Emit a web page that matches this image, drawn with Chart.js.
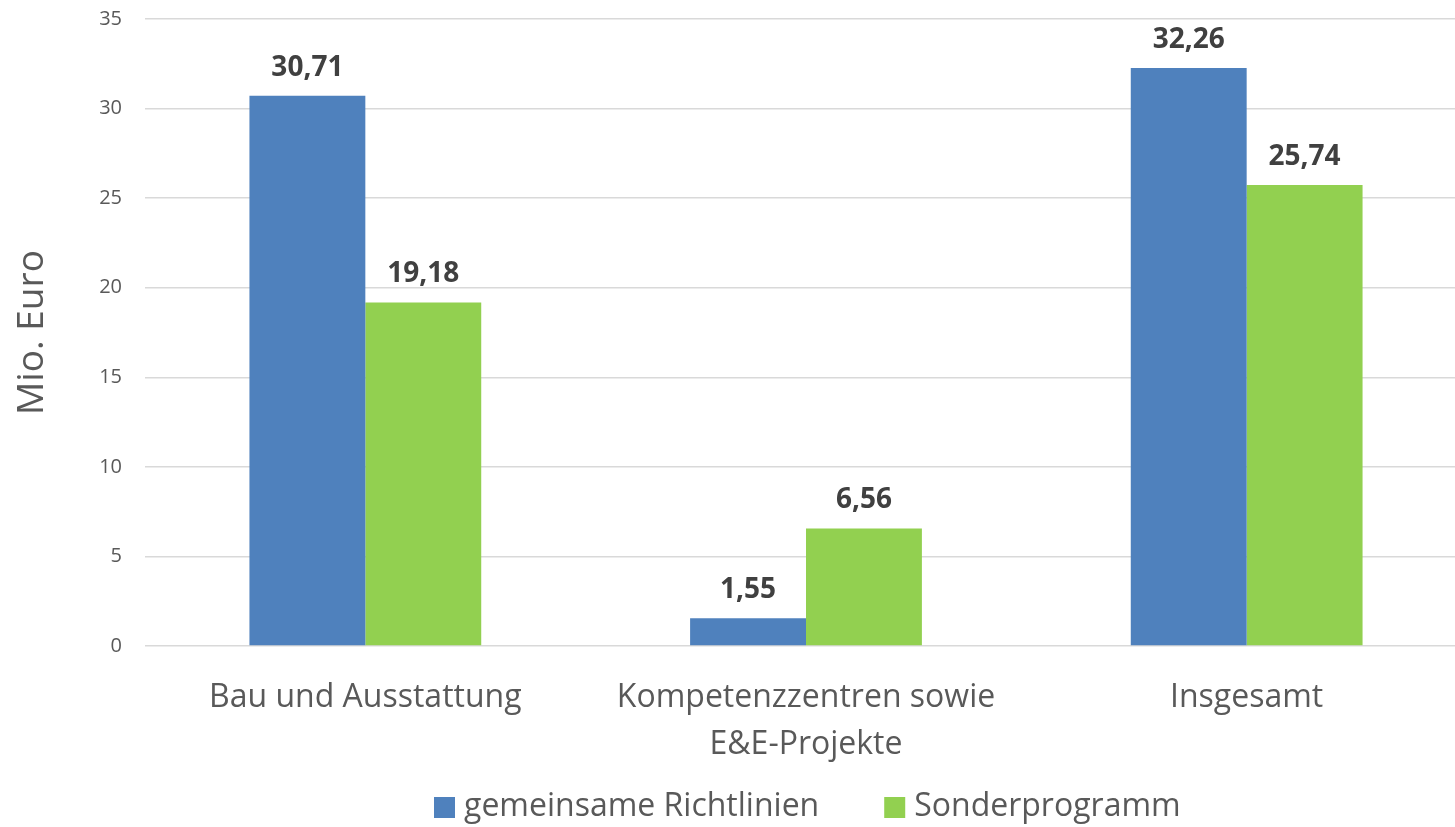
<!DOCTYPE html>
<html><head><meta charset="utf-8">
<script src="https://cdn.jsdelivr.net/npm/chart.js@4/dist/chart.umd.min.js"></script>
<style>html,body{margin:0;padding:0;background:#fff;overflow:hidden}#wrap{width:1467px;height:827px;position:relative}</style>
</head><body><div id="wrap"><canvas id="c"></canvas></div>
<script>
const categories = ["Bau und Ausstattung", ["Kompetenzzentren sowie", "E&E-Projekte"], "Insgesamt"];
const seriesNames = ["gemeinsame Richtlinien", "Sonderprogramm"];
const gemeinsame = [30.71, 1.55, 32.26];
const sonder = [19.18, 6.56, 25.74];
const yTicks = [0, 5, 10, 15, 20, 25, 30, 35];

const FONT = "'Open Sans', 'Liberation Sans', sans-serif";
const labelPlugin = {
  id: 'vals',
  afterDatasetsDraw(chart) {
    const ctx = chart.ctx;
    ctx.save();
    ctx.font = "bold 28px " + FONT;
    ctx.fillStyle = "#404040";
    ctx.textAlign = "center";
    ctx.textBaseline = "alphabetic";
    chart.data.datasets.forEach((ds, i) => {
      chart.getDatasetMeta(i).data.forEach((bar, j) => {
        ctx.fillText(ds.data[j].toFixed(2).replace('.', ','), bar.x, bar.y - 20);
      });
    });
    ctx.restore();
  }
};

// legend drawn on the canvas from the dataset labels/colours
const legendPlugin = {
  id: 'customLegend',
  afterDraw(chart) {
    const ctx = chart.ctx;
    ctx.save();
    ctx.font = "32px " + FONT;
    ctx.textBaseline = "middle";
    ctx.textAlign = "left";
    let x = 434;
    const yc = 807;
    chart.data.datasets.forEach((ds) => {
      ctx.fillStyle = ds.backgroundColor;
      ctx.fillRect(x, yc - 10, 21, 21);
      x += 21 + 9;
      ctx.fillStyle = "#595959";
      ctx.fillText(ds.label, x, yc);
      x += ctx.measureText(ds.label).width + 65;
    });
    ctx.restore();
  }
};

new Chart(document.getElementById('c'), {
  type: 'bar',
  data: {
    labels: categories,
    datasets: [
      { label: seriesNames[0], data: gemeinsame, backgroundColor: '#4F81BD' },
      { label: seriesNames[1], data: sonder, backgroundColor: '#92D050' }
    ]
  },
  options: {
    responsive: true,
    maintainAspectRatio: false,
    animation: false,
    layout: { padding: { top: 19, right: 0, left: 0, bottom: 63 } },
    datasets: { bar: { categoryPercentage: 0.526, barPercentage: 1.0 } },
    plugins: {
      tooltip: { enabled: false },
      legend: { display: false }
    },
    scales: {
      x: {
        afterFit(scale) { scale.height = 118; },
        grid: { display: false },
        border: { display: false },
        ticks: { font: { family: FONT, size: 32, lineHeight: 1.47 }, color: '#595959', padding: 20, maxRotation: 0, autoSkip: false }
      },
      y: {
        min: 0, max: 35,
        afterBuildTicks(scale) { scale.ticks = yTicks.map(v => ({ value: v })); },
        afterFit(scale) { scale.width = 145; scale.paddingTop = 0; scale.paddingBottom = 0; },
        grid: { color: '#d9d9d9', lineWidth: 1.5, drawTicks: false },
        border: { display: false },
        ticks: { font: { family: FONT, size: 20 }, color: '#595959', padding: 23 },
        title: { display: true, text: 'Mio. Euro', font: { family: FONT, size: 37 }, color: '#595959', padding: { top: 10, bottom: 0 } }
      }
    }
  },
  plugins: [labelPlugin, legendPlugin]
});
</script></body></html>
